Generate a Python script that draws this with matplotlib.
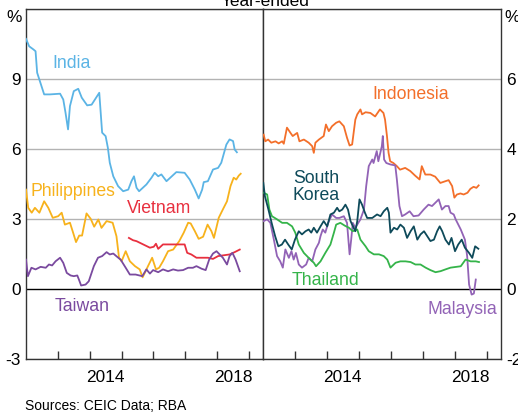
import matplotlib
matplotlib.use("Agg")
import matplotlib.pyplot as plt

plt.rcParams['font.family'] = ['Liberation Sans', 'DejaVu Sans']

# ---- left panel (per cent, left axis) ----
india_x = [2012.00, 2012.10, 2012.23, 2012.30, 2012.35, 2012.57, 2012.75, 2013.07, 2013.17, 2013.24,
           2013.32, 2013.38, 2013.50, 2013.64, 2013.75, 2013.92, 2014.06, 2014.30, 2014.39, 2014.50,
           2014.57, 2014.63, 2014.74, 2014.89, 2015.05, 2015.21, 2015.31, 2015.39, 2015.47, 2015.55,
           2015.78, 2015.94, 2016.04, 2016.15, 2016.25, 2016.41, 2016.72, 2016.98, 2017.14, 2017.30,
           2017.42, 2017.53, 2017.58, 2017.71, 2017.87, 2018.03, 2018.13, 2018.29, 2018.39, 2018.50,
           2018.55, 2018.62]
india_y = [10.72, 10.40, 10.27, 10.19, 9.27, 8.34, 8.34, 8.37, 8.12, 7.56,
           6.84, 7.84, 8.48, 8.58, 8.20, 7.87, 7.90, 8.41, 6.70, 6.55,
           6.05, 5.41, 4.83, 4.41, 4.19, 4.26, 4.62, 4.83, 4.34, 4.19,
           4.48, 4.77, 4.98, 4.83, 4.91, 4.62, 5.01, 4.98, 4.69, 4.26,
           3.88, 4.26, 4.58, 4.62, 5.12, 5.19, 5.41, 6.19, 6.41, 6.34,
           5.98, 5.86]

phil_x = [2012.00, 2012.07, 2012.18, 2012.28, 2012.42, 2012.57, 2012.70, 2012.84, 2013.01, 2013.12,
          2013.22, 2013.38, 2013.48, 2013.57, 2013.67, 2013.76, 2013.90, 2014.03, 2014.14, 2014.27,
          2014.37, 2014.53, 2014.72, 2014.84, 2014.92, 2015.00, 2015.13, 2015.26, 2015.42, 2015.57,
          2015.66, 2015.73, 2015.83, 2015.96, 2016.08, 2016.18, 2016.30, 2016.46, 2016.62, 2016.81,
          2016.95, 2017.09, 2017.17, 2017.30, 2017.42, 2017.56, 2017.70, 2017.82, 2017.90, 2018.05,
          2018.18, 2018.31, 2018.42, 2018.52, 2018.60, 2018.68, 2018.74]
phil_y = [4.26, 3.48, 3.27, 3.48, 3.27, 3.76, 3.48, 3.05, 3.12, 3.27,
          2.76, 2.84, 2.41, 2.01, 2.29, 2.29, 3.24, 3.01, 2.67, 2.98,
          2.62, 2.91, 2.84, 2.26, 1.34, 1.19, 1.62, 1.19, 0.98, 0.84,
          0.50, 0.69, 0.98, 1.34, 0.84, 0.91, 1.19, 1.62, 1.69, 2.05,
          2.41, 2.84, 2.81, 2.48, 2.15, 2.24, 2.76, 2.48, 2.19, 3.05,
          3.41, 3.76, 4.41, 4.77, 4.69, 4.86, 4.94]

viet_x = [2015.23, 2015.36, 2015.47, 2015.68, 2015.89, 2016.01, 2016.08, 2016.15, 2016.30, 2016.62,
          2016.98, 2017.06, 2017.19, 2017.35, 2017.71, 2017.87, 2018.03, 2018.18, 2018.39, 2018.55,
          2018.71]
viet_y = [2.19, 2.09, 2.05, 1.91, 1.77, 1.81, 1.94, 1.72, 1.91, 1.91,
          1.91, 1.55, 1.48, 1.34, 1.34, 1.29, 1.41, 1.44, 1.48, 1.58,
          1.69]

taiwan_x = [2012.00, 2012.06, 2012.17, 2012.30, 2012.46, 2012.62, 2012.72, 2012.82, 2012.93, 2013.07,
            2013.17, 2013.28, 2013.40, 2013.50, 2013.61, 2013.66, 2013.73, 2013.87, 2013.97, 2014.13,
            2014.26, 2014.39, 2014.53, 2014.63, 2014.74, 2014.86, 2014.97, 2015.13, 2015.26, 2015.44,
            2015.65, 2015.78, 2015.89, 2015.99, 2016.15, 2016.30, 2016.46, 2016.62, 2016.77, 2016.93,
            2017.09, 2017.24, 2017.35, 2017.51, 2017.64, 2017.75, 2017.87, 2017.98, 2018.08, 2018.18,
            2018.31, 2018.39, 2018.48, 2018.58, 2018.71]
taiwan_y = [1.26, 0.55, 0.91, 0.84, 0.95, 0.91, 1.05, 1.01, 1.19, 1.34,
            1.12, 0.69, 0.58, 0.55, 0.58, 0.41, 0.15, 0.19, 0.33, 0.98,
            1.34, 1.41, 1.58, 1.48, 1.52, 1.38, 1.26, 0.91, 0.62, 0.62,
            0.55, 0.84, 0.66, 0.81, 0.72, 0.84, 0.76, 0.84, 0.79, 0.81,
            0.91, 0.91, 0.98, 0.87, 0.81, 1.26, 1.52, 1.62, 1.48, 1.34,
            1.05, 1.41, 1.55, 1.26, 0.76]

# ---- right panel (per cent, right axis) ----
indo_x = [2012.02, 2012.07, 2012.16, 2012.26, 2012.39, 2012.49, 2012.60, 2012.65, 2012.75, 2012.86,
          2012.93, 2013.07, 2013.14, 2013.28, 2013.43, 2013.54, 2013.59, 2013.64, 2013.75, 2013.90,
          2013.97, 2014.06, 2014.16, 2014.29, 2014.39, 2014.53, 2014.63, 2014.71, 2014.79, 2014.89,
          2014.95, 2015.05, 2015.10, 2015.21, 2015.36, 2015.51, 2015.66, 2015.77, 2015.82, 2015.88,
          2015.93, 2015.98, 2016.08, 2016.19, 2016.29, 2016.45, 2016.61, 2016.76, 2016.90, 2016.97,
          2017.08, 2017.24, 2017.39, 2017.55, 2017.71, 2017.81, 2017.92, 2017.99, 2018.07, 2018.18,
          2018.28, 2018.40, 2018.49, 2018.59, 2018.68, 2018.75]
indo_y = [4.41, 4.22, 4.27, 4.18, 4.22, 4.16, 4.22, 4.15, 4.61, 4.46,
          4.37, 4.46, 4.22, 4.27, 4.18, 4.08, 3.89, 4.18, 4.27, 4.37,
          4.70, 4.51, 4.65, 4.75, 4.79, 4.65, 4.32, 4.10, 4.13, 4.84,
          4.99, 5.13, 4.99, 5.05, 5.03, 4.93, 5.13, 5.03, 4.84, 4.37,
          3.89, 3.65, 3.60, 3.51, 3.41, 3.46, 3.37, 3.24, 3.13, 3.51,
          3.27, 3.27, 3.21, 3.03, 3.08, 3.11, 2.94, 2.61, 2.70, 2.73,
          2.70, 2.75, 2.86, 2.92, 2.89, 2.96]

korea_x = [2012.01, 2012.06, 2012.17, 2012.27, 2012.38, 2012.48, 2012.59, 2012.69, 2012.79, 2012.90,
           2013.00, 2013.12, 2013.22, 2013.33, 2013.43, 2013.51, 2013.59, 2013.69, 2013.80, 2013.90,
           2014.01, 2014.11, 2014.22, 2014.32, 2014.39, 2014.48, 2014.58, 2014.66, 2014.74, 2014.79,
           2014.89, 2014.95, 2015.02, 2015.10, 2015.19, 2015.26, 2015.42, 2015.57, 2015.68, 2015.78,
           2015.89, 2015.94, 2015.99, 2016.10, 2016.20, 2016.30, 2016.41, 2016.51, 2016.62, 2016.72,
           2016.83, 2016.93, 2017.04, 2017.14, 2017.24, 2017.35, 2017.45, 2017.53, 2017.61, 2017.71,
           2017.82, 2017.90, 2018.01, 2018.11, 2018.22, 2018.32, 2018.45, 2018.55, 2018.64, 2018.74]
korea_y = [3.03, 2.65, 2.27, 1.89, 1.51, 1.22, 1.27, 1.41, 1.27, 1.13,
           1.41, 1.65, 1.56, 1.65, 1.70, 1.61, 1.75, 1.61, 1.79, 1.94,
           1.79, 2.13, 2.18, 2.32, 2.22, 2.27, 2.41, 2.27, 1.94, 1.84,
           1.65, 1.94, 2.56, 2.41, 2.18, 2.03, 2.03, 2.13, 2.08, 2.22,
           2.32, 2.18, 1.61, 1.75, 1.70, 1.84, 1.75, 1.46, 1.65, 1.79,
           1.41, 1.56, 1.65, 1.51, 1.37, 1.41, 1.65, 1.79, 1.65, 1.41,
           1.27, 1.46, 1.08, 1.27, 1.41, 1.18, 1.03, 0.89, 1.22, 1.15]

thai_x = [2012.02, 2012.13, 2012.20, 2012.28, 2012.44, 2012.60, 2012.75, 2012.91, 2013.01, 2013.12,
          2013.28, 2013.43, 2013.59, 2013.66, 2013.80, 2013.95, 2014.11, 2014.22, 2014.29, 2014.42,
          2014.56, 2014.69, 2014.81, 2014.95, 2015.05, 2015.21, 2015.31, 2015.47, 2015.63, 2015.78,
          2015.89, 2015.99, 2016.15, 2016.30, 2016.46, 2016.62, 2016.77, 2016.93, 2017.09, 2017.24,
          2017.40, 2017.56, 2017.71, 2017.87, 2018.03, 2018.19, 2018.34, 2018.50, 2018.66, 2018.76]
thai_y = [2.75, 2.70, 2.27, 2.08, 1.99, 1.89, 1.89, 1.79, 1.61, 1.27,
          1.03, 0.89, 0.75, 0.65, 0.79, 1.03, 1.27, 1.61, 1.84, 1.89,
          1.81, 1.75, 1.65, 1.70, 1.41, 1.22, 1.08, 0.99, 0.99, 0.94,
          0.84, 0.61, 0.75, 0.79, 0.79, 0.77, 0.70, 0.70, 0.61, 0.54,
          0.48, 0.51, 0.56, 0.61, 0.63, 0.65, 0.84, 0.79, 0.79, 0.77]

malay_x = [2012.02, 2012.13, 2012.23, 2012.34, 2012.44, 2012.54, 2012.62, 2012.70, 2012.81, 2012.89,
           2012.96, 2013.03, 2013.12, 2013.22, 2013.35, 2013.43, 2013.54, 2013.64, 2013.75, 2013.80,
           2013.87, 2013.95, 2014.04, 2014.16, 2014.29, 2014.39, 2014.53, 2014.63, 2014.71, 2014.76,
           2014.81, 2014.89, 2015.05, 2015.16, 2015.23, 2015.31, 2015.42, 2015.46, 2015.56, 2015.61,
           2015.72, 2015.75, 2015.79, 2015.86, 2015.98, 2016.14, 2016.19, 2016.27, 2016.35, 2016.45,
           2016.59, 2016.71, 2016.87, 2017.03, 2017.18, 2017.29, 2017.39, 2017.50, 2017.60, 2017.71,
           2017.81, 2017.87, 2017.97, 2018.03, 2018.19, 2018.32, 2018.39, 2018.45, 2018.53, 2018.60,
           2018.66]
malay_y = [1.94, 1.99, 1.89, 1.41, 0.94, 0.79, 0.61, 1.13, 0.89, 1.08,
           0.84, 1.03, 0.70, 0.61, 0.70, 0.89, 0.79, 1.13, 1.32, 1.51,
           1.70, 1.61, 1.89, 2.13, 2.03, 2.03, 2.08, 1.89, 0.99, 1.41,
           1.89, 1.75, 1.99, 2.27, 2.94, 3.51, 3.70, 3.60, 3.94, 3.65,
           4.08, 4.37, 3.70, 3.60, 3.56, 3.53, 3.13, 2.37, 2.08, 2.13,
           2.22, 2.08, 2.10, 2.27, 2.41, 2.37, 2.46, 2.56, 2.27, 2.37,
           2.37, 2.18, 2.13, 1.99, 1.70, 1.41, 0.94, 0.13, -0.16, -0.13,
           0.27]

col_india = '#5bb4e5'
col_phil = '#f7b21c'
col_viet = '#e8303f'
col_taiwan = '#7a4a9f'
col_indo = '#f36f2a'
col_korea = '#0e4a5a'
col_thai = '#35b44a'
col_malay = '#9263b6'

LW = 1.3
FS = 12.4

fig = plt.figure(figsize=(5.18, 4.15), dpi=100)
W, H = 518.0, 415.0
bot = 1 - 359 / H
hgt = 350 / H
axl = fig.add_axes([26 / W, bot, 237 / W, hgt])
axr = fig.add_axes([263 / W, bot, 237.7 / W, hgt])

def style(ax, ylim, yticks, side):
    ax.set_xlim(2012, 2019.44)
    ax.set_ylim(*ylim)
    for y in yticks:
        if y == 0:
            ax.axhline(y, color='black', lw=1.0, zorder=1)
        else:
            ax.axhline(y, color='#b3b3b3', lw=1.0, zorder=1)
    ax.set_yticks(yticks[:-1])
    ax.set_yticklabels([f"{t:g}" for t in yticks[:-1]], fontsize=FS)
    ax.tick_params(axis='y', length=0, pad=4)
    if side == 'right':
        ax.yaxis.tick_right()
    ax.set_xticks(list(range(2013, 2020)))
    ax.set_xticklabels([])
    ax.tick_params(axis='x', which='major', direction='in', length=6, width=1, color='#333333')
    ax.set_xticks([2014.5, 2018.5], minor=True)
    ax.set_xticklabels(['2014', '2018'], minor=True, fontsize=FS)
    ax.tick_params(axis='x', which='minor', length=0, pad=8)
    for s in ax.spines.values():
        s.set_color('#333333')
        s.set_linewidth(1.0)

style(axl, (-3, 12), [-3, 0, 3, 6, 9, 12], 'left')
style(axr, (-2, 8), [-2, 0, 2, 4, 6, 8], 'right')

axl.plot(india_x, india_y, color=col_india, lw=LW, zorder=3)
axl.plot(phil_x, phil_y, color=col_phil, lw=LW, zorder=3)
axl.plot(viet_x, viet_y, color=col_viet, lw=LW, zorder=3)
axl.plot(taiwan_x, taiwan_y, color=col_taiwan, lw=LW, zorder=4)

axr.plot(indo_x, indo_y, color=col_indo, lw=LW, zorder=3)
axr.plot(malay_x, malay_y, color=col_malay, lw=LW, zorder=3)
axr.plot(thai_x, thai_y, color=col_thai, lw=LW, zorder=3)
axr.plot(korea_x, korea_y, color=col_korea, lw=LW, zorder=4)

LFS = 12.7
axl.text(2013.44, 9.67, 'India', color=col_india, fontsize=LFS, ha='center', va='center')
axl.text(2013.46, 4.18, 'Philippines', color=col_phil, fontsize=LFS, ha='center', va='center')
axl.text(2016.18, 3.44, 'Vietnam', color=col_viet, fontsize=LFS, ha='center', va='center')
axl.text(2013.77, -0.76, 'Taiwan', color=col_taiwan, fontsize=LFS, ha='center', va='center')

axr.text(2016.61, 5.56, 'Indonesia', color=col_indo, fontsize=LFS, ha='center', va='center')
axr.text(2012.93, 2.91, 'South\nKorea', color=col_korea, fontsize=LFS, ha='left', va='center',
         linespacing=1.05)
axr.text(2013.96, 0.24, 'Thailand', color=col_thai, fontsize=LFS, ha='center', va='center')
axr.text(2018.23, -0.59, 'Malaysia', color=col_malay, fontsize=LFS, ha='center', va='center')

fig.text(22 / W, 1 - 17 / H, '%', fontsize=FS, ha='right', va='center')
fig.text(504 / W, 1 - 17 / H, '%', fontsize=FS, ha='left', va='center')
fig.text(265 / W, 1 - 6 / H, 'Year-ended', fontsize=FS, ha='center', va='baseline')
fig.text(25 / W, 1 - 405.7 / H, 'Sources: CEIC Data; RBA', fontsize=10, ha='left', va='center')

fig.savefig('out.png', dpi=100)
